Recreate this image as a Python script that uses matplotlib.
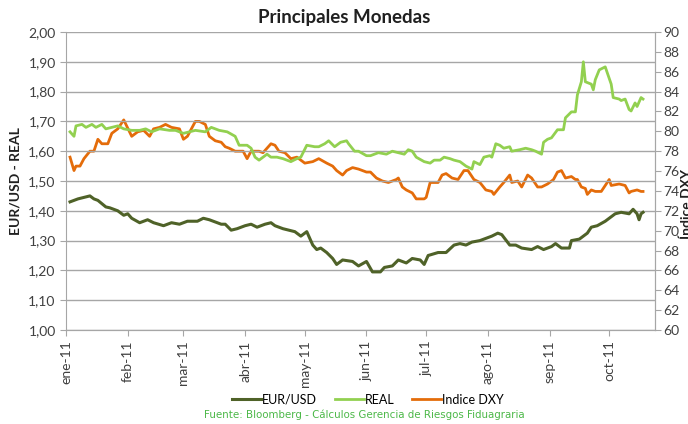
import matplotlib
matplotlib.use('Agg')
import matplotlib.pyplot as plt
from matplotlib.ticker import FuncFormatter, MultipleLocator
import pandas as pd

# EUR/USD (eje izq.)
eur_dates = ['2011-01-03','2011-01-05','2011-01-07','2011-01-10','2011-01-13','2011-01-15','2011-01-17',
             '2011-01-21','2011-01-23','2011-01-27','2011-01-30','2011-02-01','2011-02-03','2011-02-07',
             '2011-02-11','2011-02-14','2011-02-19','2011-02-23','2011-02-27','2011-03-03','2011-03-08',
             '2011-03-11','2011-03-14','2011-03-18','2011-03-20','2011-03-22','2011-03-25','2011-03-28',
             '2011-04-01','2011-04-04','2011-04-07','2011-04-11','2011-04-14','2011-04-16','2011-04-20',
             '2011-04-23','2011-04-26','2011-04-29','2011-05-02','2011-05-05','2011-05-07','2011-05-09',
             '2011-05-12','2011-05-15','2011-05-17','2011-05-20','2011-05-25','2011-05-28','2011-06-01',
             '2011-06-04','2011-06-08','2011-06-10','2011-06-14','2011-06-17','2011-06-21','2011-06-24',
             '2011-06-28','2011-06-30','2011-07-02','2011-07-07','2011-07-11','2011-07-15','2011-07-18',
             '2011-07-21','2011-07-24','2011-07-28','2011-08-03','2011-08-06','2011-08-08','2011-08-12',
             '2011-08-15','2011-08-18','2011-08-23','2011-08-26','2011-08-29','2011-09-02','2011-09-04',
             '2011-09-07','2011-09-11','2011-09-12','2011-09-16','2011-09-20','2011-09-22','2011-09-25',
             '2011-09-29','2011-10-01','2011-10-04','2011-10-07','2011-10-11','2011-10-13','2011-10-15',
             '2011-10-16','2011-10-17','2011-10-18']
eur_vals = [1.430,1.435,1.440,1.445,1.450,1.440,1.435,1.413,1.410,1.400,1.385,1.390,1.375,1.360,
            1.370,1.360,1.350,1.360,1.355,1.365,1.365,1.375,1.370,1.360,1.355,1.355,1.335,1.340,
            1.350,1.355,1.345,1.355,1.360,1.350,1.340,1.335,1.330,1.315,1.330,1.285,1.270,1.275,
            1.260,1.240,1.220,1.235,1.230,1.215,1.230,1.195,1.195,1.210,1.215,1.235,1.225,1.240,
            1.235,1.220,1.250,1.260,1.260,1.285,1.290,1.285,1.295,1.300,1.315,1.325,1.320,1.285,
            1.285,1.275,1.270,1.280,1.270,1.280,1.290,1.275,1.275,1.300,1.305,1.325,1.345,1.350,
            1.365,1.375,1.390,1.395,1.390,1.405,1.390,1.370,1.390,1.395]

# REAL (eje izq.)
real_dates = ['2011-01-03','2011-01-05','2011-01-06','2011-01-09','2011-01-11','2011-01-14','2011-01-16',
              '2011-01-19','2011-01-21','2011-01-24','2011-01-27','2011-01-30','2011-02-03','2011-02-07',
              '2011-02-10','2011-02-13','2011-02-17','2011-02-22','2011-02-25','2011-03-01','2011-03-04',
              '2011-03-07','2011-03-12','2011-03-15','2011-03-19','2011-03-23','2011-03-27','2011-03-29',
              '2011-04-02','2011-04-04','2011-04-06','2011-04-08','2011-04-12','2011-04-14','2011-04-17',
              '2011-04-20','2011-04-24','2011-04-27','2011-04-29','2011-05-02','2011-05-06','2011-05-08',
              '2011-05-11','2011-05-13','2011-05-16','2011-05-19','2011-05-22','2011-05-23','2011-05-26',
              '2011-05-28','2011-06-01','2011-06-03','2011-06-07','2011-06-11','2011-06-14','2011-06-17',
              '2011-06-20','2011-06-22','2011-06-24','2011-06-26','2011-06-30','2011-07-03','2011-07-05',
              '2011-07-08','2011-07-10','2011-07-13','2011-07-15','2011-07-18','2011-07-21','2011-07-24',
              '2011-07-25','2011-07-28','2011-07-30','2011-08-02','2011-08-03','2011-08-05','2011-08-07',
              '2011-08-09','2011-08-12','2011-08-13','2011-08-17','2011-08-20','2011-08-23','2011-08-25',
              '2011-08-28','2011-08-29','2011-08-31','2011-09-02','2011-09-05','2011-09-08','2011-09-09',
              '2011-09-12','2011-09-14','2011-09-15','2011-09-17','2011-09-18','2011-09-19','2011-09-22',
              '2011-09-23','2011-09-24','2011-09-26','2011-09-29','2011-10-02','2011-10-03','2011-10-06',
              '2011-10-07','2011-10-09','2011-10-11','2011-10-12','2011-10-14','2011-10-15','2011-10-17',
              '2011-10-18']
real_vals = [1.665,1.650,1.685,1.690,1.680,1.690,1.680,1.690,1.675,1.680,1.685,1.675,1.670,1.670,
             1.675,1.665,1.675,1.670,1.670,1.660,1.665,1.670,1.665,1.680,1.670,1.665,1.650,1.620,
             1.620,1.610,1.580,1.570,1.590,1.580,1.580,1.575,1.565,1.575,1.580,1.620,1.615,1.615,
             1.625,1.635,1.615,1.630,1.635,1.625,1.600,1.600,1.585,1.585,1.595,1.590,1.600,1.595,
             1.590,1.605,1.600,1.580,1.565,1.560,1.570,1.570,1.580,1.575,1.570,1.565,1.550,1.540,
             1.565,1.555,1.580,1.585,1.580,1.625,1.620,1.610,1.615,1.600,1.605,1.610,1.605,1.600,
             1.590,1.630,1.640,1.645,1.672,1.672,1.712,1.732,1.732,1.789,1.833,1.900,1.833,1.825,
             1.806,1.840,1.873,1.883,1.825,1.780,1.775,1.770,1.775,1.740,1.735,1.762,1.750,1.780,
             1.775]

# Indice DXY (eje der.)
dxy_dates = ['2011-01-03','2011-01-05','2011-01-06','2011-01-08','2011-01-10','2011-01-13','2011-01-15',
             '2011-01-17','2011-01-19','2011-01-22','2011-01-24','2011-01-27','2011-01-30','2011-02-03',
             '2011-02-06','2011-02-09','2011-02-12','2011-02-14','2011-02-17','2011-02-20','2011-02-23',
             '2011-02-27','2011-03-01','2011-03-03','2011-03-07','2011-03-09','2011-03-12','2011-03-14',
             '2011-03-17','2011-03-20','2011-03-22','2011-03-24','2011-03-27','2011-03-31','2011-04-02',
             '2011-04-04','2011-04-08','2011-04-10','2011-04-14','2011-04-16','2011-04-18','2011-04-21',
             '2011-04-24','2011-04-27','2011-04-29','2011-05-01','2011-05-05','2011-05-08','2011-05-12',
             '2011-05-15','2011-05-17','2011-05-20','2011-05-22','2011-05-25','2011-05-28','2011-06-01',
             '2011-06-03','2011-06-06','2011-06-09','2011-06-12','2011-06-16','2011-06-17','2011-06-19',
             '2011-06-21','2011-06-24','2011-06-26','2011-06-30','2011-07-01','2011-07-03','2011-07-05',
             '2011-07-07','2011-07-09','2011-07-11','2011-07-14','2011-07-17','2011-07-20','2011-07-22',
             '2011-07-25','2011-07-28','2011-07-31','2011-08-03','2011-08-04','2011-08-07','2011-08-09',
             '2011-08-12','2011-08-13','2011-08-16','2011-08-18','2011-08-21','2011-08-23','2011-08-26',
             '2011-08-28','2011-08-31','2011-09-03','2011-09-05','2011-09-07','2011-09-09','2011-09-12',
             '2011-09-14','2011-09-15','2011-09-17','2011-09-19','2011-09-20','2011-09-22','2011-09-24',
             '2011-09-27','2011-09-29','2011-10-01','2011-10-02','2011-10-06','2011-10-09','2011-10-11',
             '2011-10-12','2011-10-15','2011-10-17','2011-10-18']
dxy_vals = [77.40,76.05,76.50,76.50,77.25,78.00,78.00,79.20,78.75,78.75,79.80,80.25,81.15,79.50,
            79.95,80.10,79.50,80.25,80.40,80.70,80.40,80.25,79.20,79.50,81.00,81.00,80.70,79.50,
            79.05,78.90,78.45,78.30,78.00,78.00,77.25,78.00,78.00,77.85,78.75,78.60,78.00,77.85,
            77.25,77.40,77.10,76.80,76.95,77.25,76.80,76.50,76.05,75.60,76.05,76.35,76.20,75.90,
            75.90,75.30,75.00,74.85,75.15,75.30,74.40,74.10,73.80,73.20,73.20,73.35,74.85,74.85,
            74.85,75.60,75.75,75.30,75.15,76.05,76.05,75.15,74.85,74.10,73.95,73.65,74.40,74.85,
            75.60,74.85,75.00,74.40,75.60,75.30,74.40,74.40,74.70,75.15,75.90,76.05,75.30,75.45,
            75.15,75.15,74.40,74.25,73.65,74.10,73.95,73.95,74.55,75.15,74.55,74.70,74.55,73.80,
            73.95,74.10,73.95,73.95]

month_labels = ['ene-11','feb-11','mar-11','abr-11','may-11','jun-11','jul-11','ago-11','sep-11','oct-11']
month_ticks = pd.date_range('2011-01-01', periods=10, freq='MS')

c_eur = '#4F6228'
c_real = '#92D050'
c_dxy = '#E46C0A'
grid_c = '#A6A6A6'

plt.rcParams['font.family'] = ['Lato', 'DejaVu Sans']

fig = plt.figure(figsize=(6.88, 4.24), dpi=100)
ax = fig.add_axes([0.096, 0.2217, 0.856, 0.7028])
ax2 = ax.twinx()

l1, = ax.plot(pd.to_datetime(eur_dates), eur_vals, color=c_eur, lw=2.2, label='EUR/USD')
l2, = ax.plot(pd.to_datetime(real_dates), real_vals, color=c_real, lw=2.0, label='REAL')
l3, = ax2.plot(pd.to_datetime(dxy_dates), dxy_vals, color=c_dxy, lw=2.0, label='Indice DXY')
ax2.set_zorder(ax.get_zorder() - 1)
ax.patch.set_visible(False)

ax.set_ylim(1.0, 2.0)
ax.yaxis.set_major_locator(MultipleLocator(0.1))
ax.yaxis.set_major_formatter(FuncFormatter(lambda v, p: f'{v:.2f}'.replace('.', ',')))
ax2.set_ylim(60, 90)
ax2.yaxis.set_major_locator(MultipleLocator(2))

ax.set_xlim(pd.Timestamp('2011-01-01'), pd.Timestamp('2011-10-24'))
ax.set_xticks(month_ticks)
ax.set_xticklabels(month_labels, rotation=90)

ax.grid(axis='y', color=grid_c, lw=1.0)
ax.set_axisbelow(True)
for a in (ax, ax2):
    a.spines['top'].set_visible(False)
    for s in ('left', 'right', 'bottom'):
        a.spines[s].set_color(grid_c)
    a.tick_params(colors=grid_c, labelcolor='#404040', labelsize=10, length=4)
ax2.spines['left'].set_visible(False)
ax2.tick_params(pad=2)

fig.text(0.5, 0.958, 'Principales Monedas', ha='center', va='center',
         fontsize=13.5, fontweight='bold', color='#202020')
ax.set_ylabel('EUR/USD - REAL', fontsize=10, fontweight='bold', color='#202020', labelpad=5)
fig.text(0.998, 0.52, 'Índice DXY', rotation=90, ha='center', va='center',
         fontsize=10, fontweight='bold', color='#202020')

fig.legend(handles=[l1, l2, l3], loc='center', bbox_to_anchor=(0.535, 0.057), ncol=3,
           frameon=False, fontsize=9, handlelength=2.3, columnspacing=1.4, handletextpad=0.1)
fig.text(0.53, 0.022, 'Fuente: Bloomberg - Cálculos Gerencia de Riesgos Fiduagraria',
         ha='center', va='center', fontsize=7.4, color='#4CB848', family=['DejaVu Sans'])

fig.savefig('out.png', dpi=100)
